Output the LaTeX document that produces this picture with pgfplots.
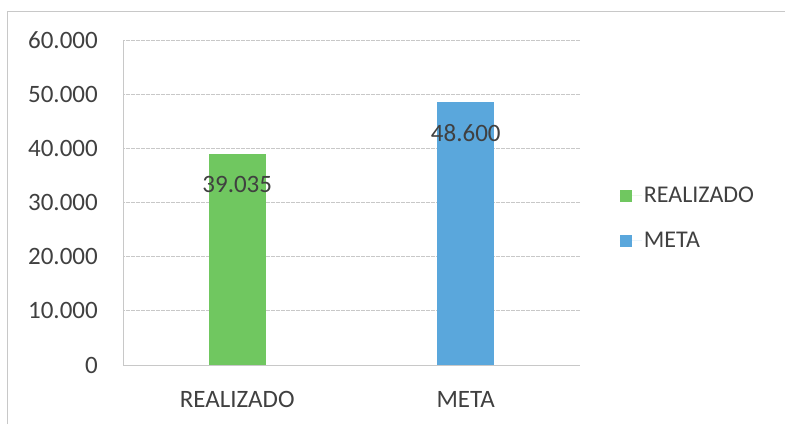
\documentclass[border=0pt]{standalone}
\usepackage{pgfplots}
\pgfplotsset{compat=1.18}
\usepackage{fontspec}
\setmainfont{Carlito}
\definecolor{barG}{RGB}{112,199,96}
\definecolor{barB}{RGB}{90,167,220}
\definecolor{txt}{RGB}{64,64,64}
\definecolor{gridc}{RGB}{200,200,200}
\begin{document}
\begin{tikzpicture}[x=1bp,y=1bp]
\useasboundingbox (0,0) rectangle (785,424);
\draw[gridc, line width=0.8bp] (7,0) -- (7,413) -- (785,413);
\begin{axis}[
  at={(123bp,59bp)}, anchor=south west,
  width=457bp, height=325bp, scale only axis,
  ymin=0, ymax=60000,
  ytick={0,10000,...,60000},
  xmin=-0.5, xmax=1.5,
  xtick={0,1}, xticklabels={REALIZADO,META},
  ybar, bar width=57bp, bar shift=0pt,
  major tick length=0pt,
  ymajorgrids, grid style={gridc, line width=0.7bp, dash pattern=on 2bp off 0.5bp},
  axis x line*=bottom, axis y line*=left,
  axis line style={gridc, line width=0.8bp, -},
  tick label style={font=\fontsize{25bp}{30bp}\selectfont, text=txt, inner sep=0pt},
  yticklabel style={xshift=-25bp},
  xticklabel style={yshift=-26bp},
  /pgf/number format/.cd, fixed, precision=0, 1000 sep={.}, assume math mode=true,
  /pgfplots/.cd,
  scaled y ticks=false,
  nodes near coords,
  nodes near coords style={font=\fontsize{25bp}{30bp}\selectfont, text=txt, anchor=center, yshift=-31bp,
    /pgf/number format/.cd, fixed, precision=0, 1000 sep={.}, assume math mode=true},
  legend style={draw=none, fill=none, at={(1.087,0.452)}, anchor=west, inner xsep=0pt,
    font=\fontsize{24bp}{29bp}\selectfont, text=txt, row sep=24bp,
    legend cell align=left},
  legend image code/.code={\fill[#1] (0bp,-6bp) rectangle (12bp,6bp); \path (0bp,0bp) -- (22bp,0bp);},
]
\addplot[fill=barG, draw=none] coordinates {(0,39035)};
\addplot[fill=barB, draw=none] coordinates {(1,48600)};
\legend{REALIZADO,META}
\end{axis}
\end{tikzpicture}
\end{document}
